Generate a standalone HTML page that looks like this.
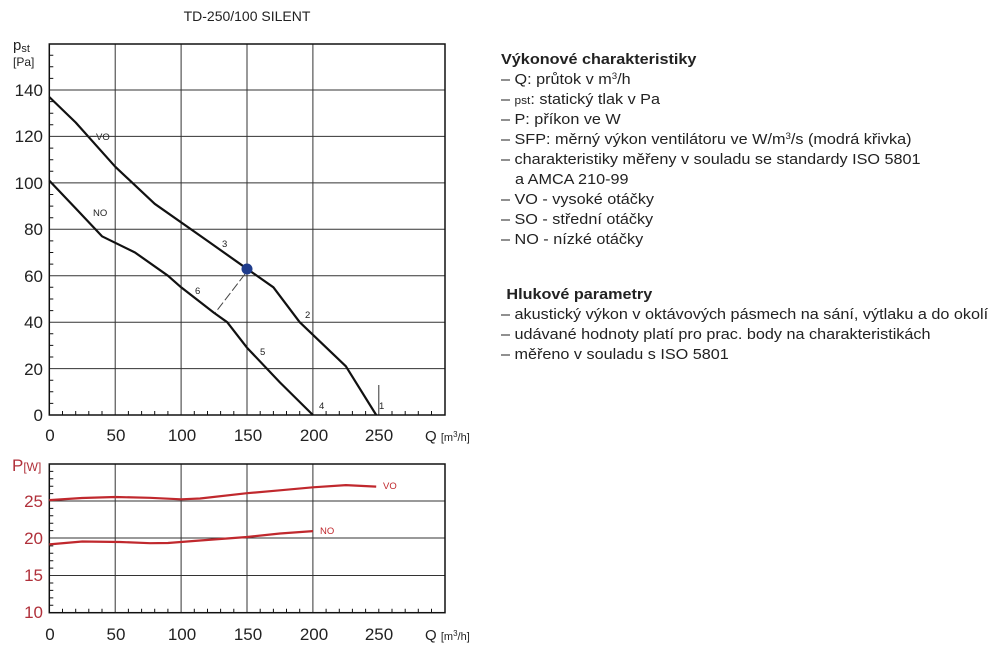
<!DOCTYPE html>
<html><head><meta charset="utf-8"><style>
body{margin:0;background:#fff;}
svg text{font-family:"Liberation Sans",sans-serif;}
</style></head><body>
<svg width="1000" height="654" viewBox="0 0 1000 654" xmlns="http://www.w3.org/2000/svg">
<text x="247" y="21" font-size="14" text-anchor="middle" fill="#222">TD-250/100 SILENT</text>
<g stroke="#333" stroke-width="1">
<line x1="49.3" y1="90" x2="445" y2="90"/><line x1="49.3" y1="136.4" x2="445" y2="136.4"/>
<line x1="49.3" y1="182.9" x2="445" y2="182.9"/><line x1="49.3" y1="229.3" x2="445" y2="229.3"/>
<line x1="49.3" y1="275.7" x2="445" y2="275.7"/><line x1="49.3" y1="322.2" x2="445" y2="322.2"/>
<line x1="49.3" y1="368.6" x2="445" y2="368.6"/>
<line x1="115.2" y1="44" x2="115.2" y2="415"/><line x1="181.1" y1="44" x2="181.1" y2="415"/>
<line x1="247" y1="44" x2="247" y2="415"/><line x1="312.9" y1="44" x2="312.9" y2="415"/>
<line x1="378.8" y1="385" x2="378.8" y2="415"/>
</g>
<rect x="49.3" y="44" width="395.7" height="371" fill="none" stroke="#111" stroke-width="1.5"/>
<g stroke="#111" stroke-width="1">
<path d="M49.3 403.4h4M49.3 391.8h4M49.3 380.2h4M49.3 357h4M49.3 345.4h4M49.3 333.8h4M49.3 310.6h4M49.3 299h4M49.3 287.3h4M49.3 264.1h4M49.3 252.5h4M49.3 240.9h4M49.3 217.7h4M49.3 206.1h4M49.3 194.5h4M49.3 171.3h4M49.3 159.7h4M49.3 148.1h4M49.3 124.8h4M49.3 113.2h4M49.3 101.6h4M49.3 78.4h4M49.3 66.8h4M49.3 55.2h4"/>
<path d="M62.5 415v-4M75.7 415v-4M88.8 415v-4M102 415v-4M128.4 415v-4M141.6 415v-4M154.7 415v-4M167.9 415v-4M194.3 415v-4M207.5 415v-4M220.6 415v-4M233.8 415v-4M260.2 415v-4M273.4 415v-4M286.5 415v-4M299.7 415v-4M326.1 415v-4M339.3 415v-4M352.4 415v-4M365.6 415v-4M392 415v-4M405.2 415v-4M418.3 415v-4M431.5 415v-4"/>
</g>
<g font-size="17" fill="#222" text-anchor="end">
<text x="43" y="96">140</text><text x="43" y="142">120</text><text x="43" y="189">100</text>
<text x="43" y="235">80</text><text x="43" y="282">60</text><text x="43" y="328">40</text>
<text x="43" y="375">20</text><text x="43" y="421">0</text>
</g>
<text x="13" y="50" font-size="15" fill="#222">p<tspan font-size="11" dy="2">st</tspan></text>
<text x="13" y="66" font-size="12" fill="#222">[Pa]</text>
<g font-size="17" fill="#222" text-anchor="middle">
<text x="50" y="441">0</text><text x="116" y="441">50</text><text x="182" y="441">100</text>
<text x="248" y="441">150</text><text x="314" y="441">200</text><text x="379" y="441">250</text>
</g>
<text x="425" y="441" font-size="15" fill="#222">Q <tspan font-size="11">[m<tspan font-size="8" dy="-4">3</tspan><tspan dy="4">/h]</tspan></tspan></text>
<g fill="none" stroke="#111" stroke-width="2.2" stroke-linejoin="round">
<polyline points="49.3,97 75.7,122.5 115.2,166.7 154.7,203.8 207.5,240.9 247,268.8 273.4,287.3 299.7,322.2 345.9,366.3 376.2,415"/>
<polyline points="49.3,180.6 75.7,208.4 102,236.3 135,252.5 167.9,275.7 181.1,287.3 214.1,312.9 227.2,322.2 247,347.7 280,382.5 312.9,415"/>
</g>
<line x1="245" y1="274" x2="215" y2="313" stroke="#444" stroke-width="1" stroke-dasharray="9,3"/>
<line x1="88" y1="136.4" x2="96" y2="136.4" stroke="#333"/>
<circle cx="247" cy="269" r="5.5" fill="#1f3c8c"/>
<g font-size="9.5" fill="#222">
<text x="96" y="140">VO</text><text x="93" y="216">NO</text>
<text x="222" y="247">3</text><text x="195" y="294">6</text><text x="305" y="318">2</text>
<text x="260" y="355">5</text><text x="319" y="409">4</text><text x="379" y="409">1</text>
</g>
<g stroke="#333" stroke-width="1">
<line x1="49.3" y1="501" x2="445" y2="501"/><line x1="49.3" y1="538" x2="445" y2="538"/>
<line x1="49.3" y1="575.5" x2="445" y2="575.5"/>
<line x1="115.2" y1="464" x2="115.2" y2="612.7"/><line x1="181.1" y1="464" x2="181.1" y2="612.7"/>
<line x1="247" y1="464" x2="247" y2="612.7"/><line x1="312.9" y1="464" x2="312.9" y2="612.7"/>
</g>
<rect x="49.3" y="464" width="395.7" height="148.7" fill="none" stroke="#111" stroke-width="1.5"/>
<g stroke="#111" stroke-width="1">
<path d="M49.3 605.3h4M49.3 597.9h4M49.3 590.4h4M49.3 583h4M49.3 568.1h4M49.3 560.7h4M49.3 553.3h4M49.3 545.9h4M49.3 530.6h4M49.3 523.2h4M49.3 515.8h4M49.3 508.4h4M49.3 493.6h4M49.3 486.2h4M49.3 478.8h4M49.3 471.4h4"/>
<path d="M62.5 612.7v-4M75.7 612.7v-4M88.8 612.7v-4M102 612.7v-4M128.4 612.7v-4M141.6 612.7v-4M154.7 612.7v-4M167.9 612.7v-4M194.3 612.7v-4M207.5 612.7v-4M220.6 612.7v-4M233.8 612.7v-4M260.2 612.7v-4M273.4 612.7v-4M286.5 612.7v-4M299.7 612.7v-4M326.1 612.7v-4M339.3 612.7v-4M352.4 612.7v-4M365.6 612.7v-4M378.8 612.7v-4M392 612.7v-4M405.2 612.7v-4M418.3 612.7v-4M431.5 612.7v-4"/>
</g>
<text x="12" y="471" font-size="17" fill="#b0303a">P<tspan font-size="12">[W]</tspan></text>
<g font-size="17" fill="#b0303a" text-anchor="end">
<text x="43" y="507">25</text><text x="43" y="544">20</text><text x="43" y="581">15</text><text x="43" y="618">10</text>
</g>
<g font-size="17" fill="#222" text-anchor="middle">
<text x="50" y="640">0</text><text x="116" y="640">50</text><text x="182" y="640">100</text>
<text x="248" y="640">150</text><text x="314" y="640">200</text><text x="379" y="640">250</text>
</g>
<text x="425" y="640" font-size="15" fill="#222">Q <tspan font-size="11">[m<tspan font-size="8" dy="-4">3</tspan><tspan dy="4">/h]</tspan></tspan></text>
<g fill="none" stroke="#c0282d" stroke-width="2.2" stroke-linejoin="round">
<polyline points="49.3,500.1 82,498 115.2,497 150,497.8 181.1,499.3 200,498.5 247,493.2 280,490.3 312.9,487.3 345.9,485.1 376.2,486.6"/>
<polyline points="49.3,544.4 82.3,541.5 120,542 150,543.2 167.9,543 200,540.5 247,537 280,533.5 312.9,531.1"/>
</g>
<text x="383" y="489" font-size="9.5" fill="#c0282d">VO</text>
<text x="320" y="534" font-size="9.5" fill="#c0282d">NO</text>
<g font-size="15" fill="#222" transform="translate(501,0) scale(1.08,1) translate(-501,0)">
<text x="501" y="64" font-weight="bold">Výkonové charakteristiky</text>
<text x="501" y="84">– Q: průtok v m<tspan font-size="9" dy="-5">3</tspan><tspan dy="5">/h</tspan></text>
<text x="501" y="104">– <tspan font-size="11">pst</tspan>: statický tlak v Pa</text>
<text x="501" y="124">– P: příkon ve W</text>
<text x="501" y="144">– SFP: měrný výkon ventilátoru ve W/m<tspan font-size="9" dy="-5">3</tspan><tspan dy="5">/s (modrá křivka)</tspan></text>
<text x="501" y="164">– charakteristiky měřeny v souladu se standardy ISO 5801</text>
<text x="514" y="184">a AMCA 210-99</text>
<text x="501" y="204">– VO - vysoké otáčky</text>
<text x="501" y="224">– SO - střední otáčky</text>
<text x="501" y="244">– NO - nízké otáčky</text>
<text x="506" y="299" font-weight="bold">Hlukové parametry</text>
<text x="501" y="319">– akustický výkon v oktávových pásmech na sání, výtlaku a do okolí</text>
<text x="501" y="339">– udávané hodnoty platí pro prac. body na charakteristikách</text>
<text x="501" y="359">– měřeno v souladu s ISO 5801</text>
</g>
</svg>
</body></html>
